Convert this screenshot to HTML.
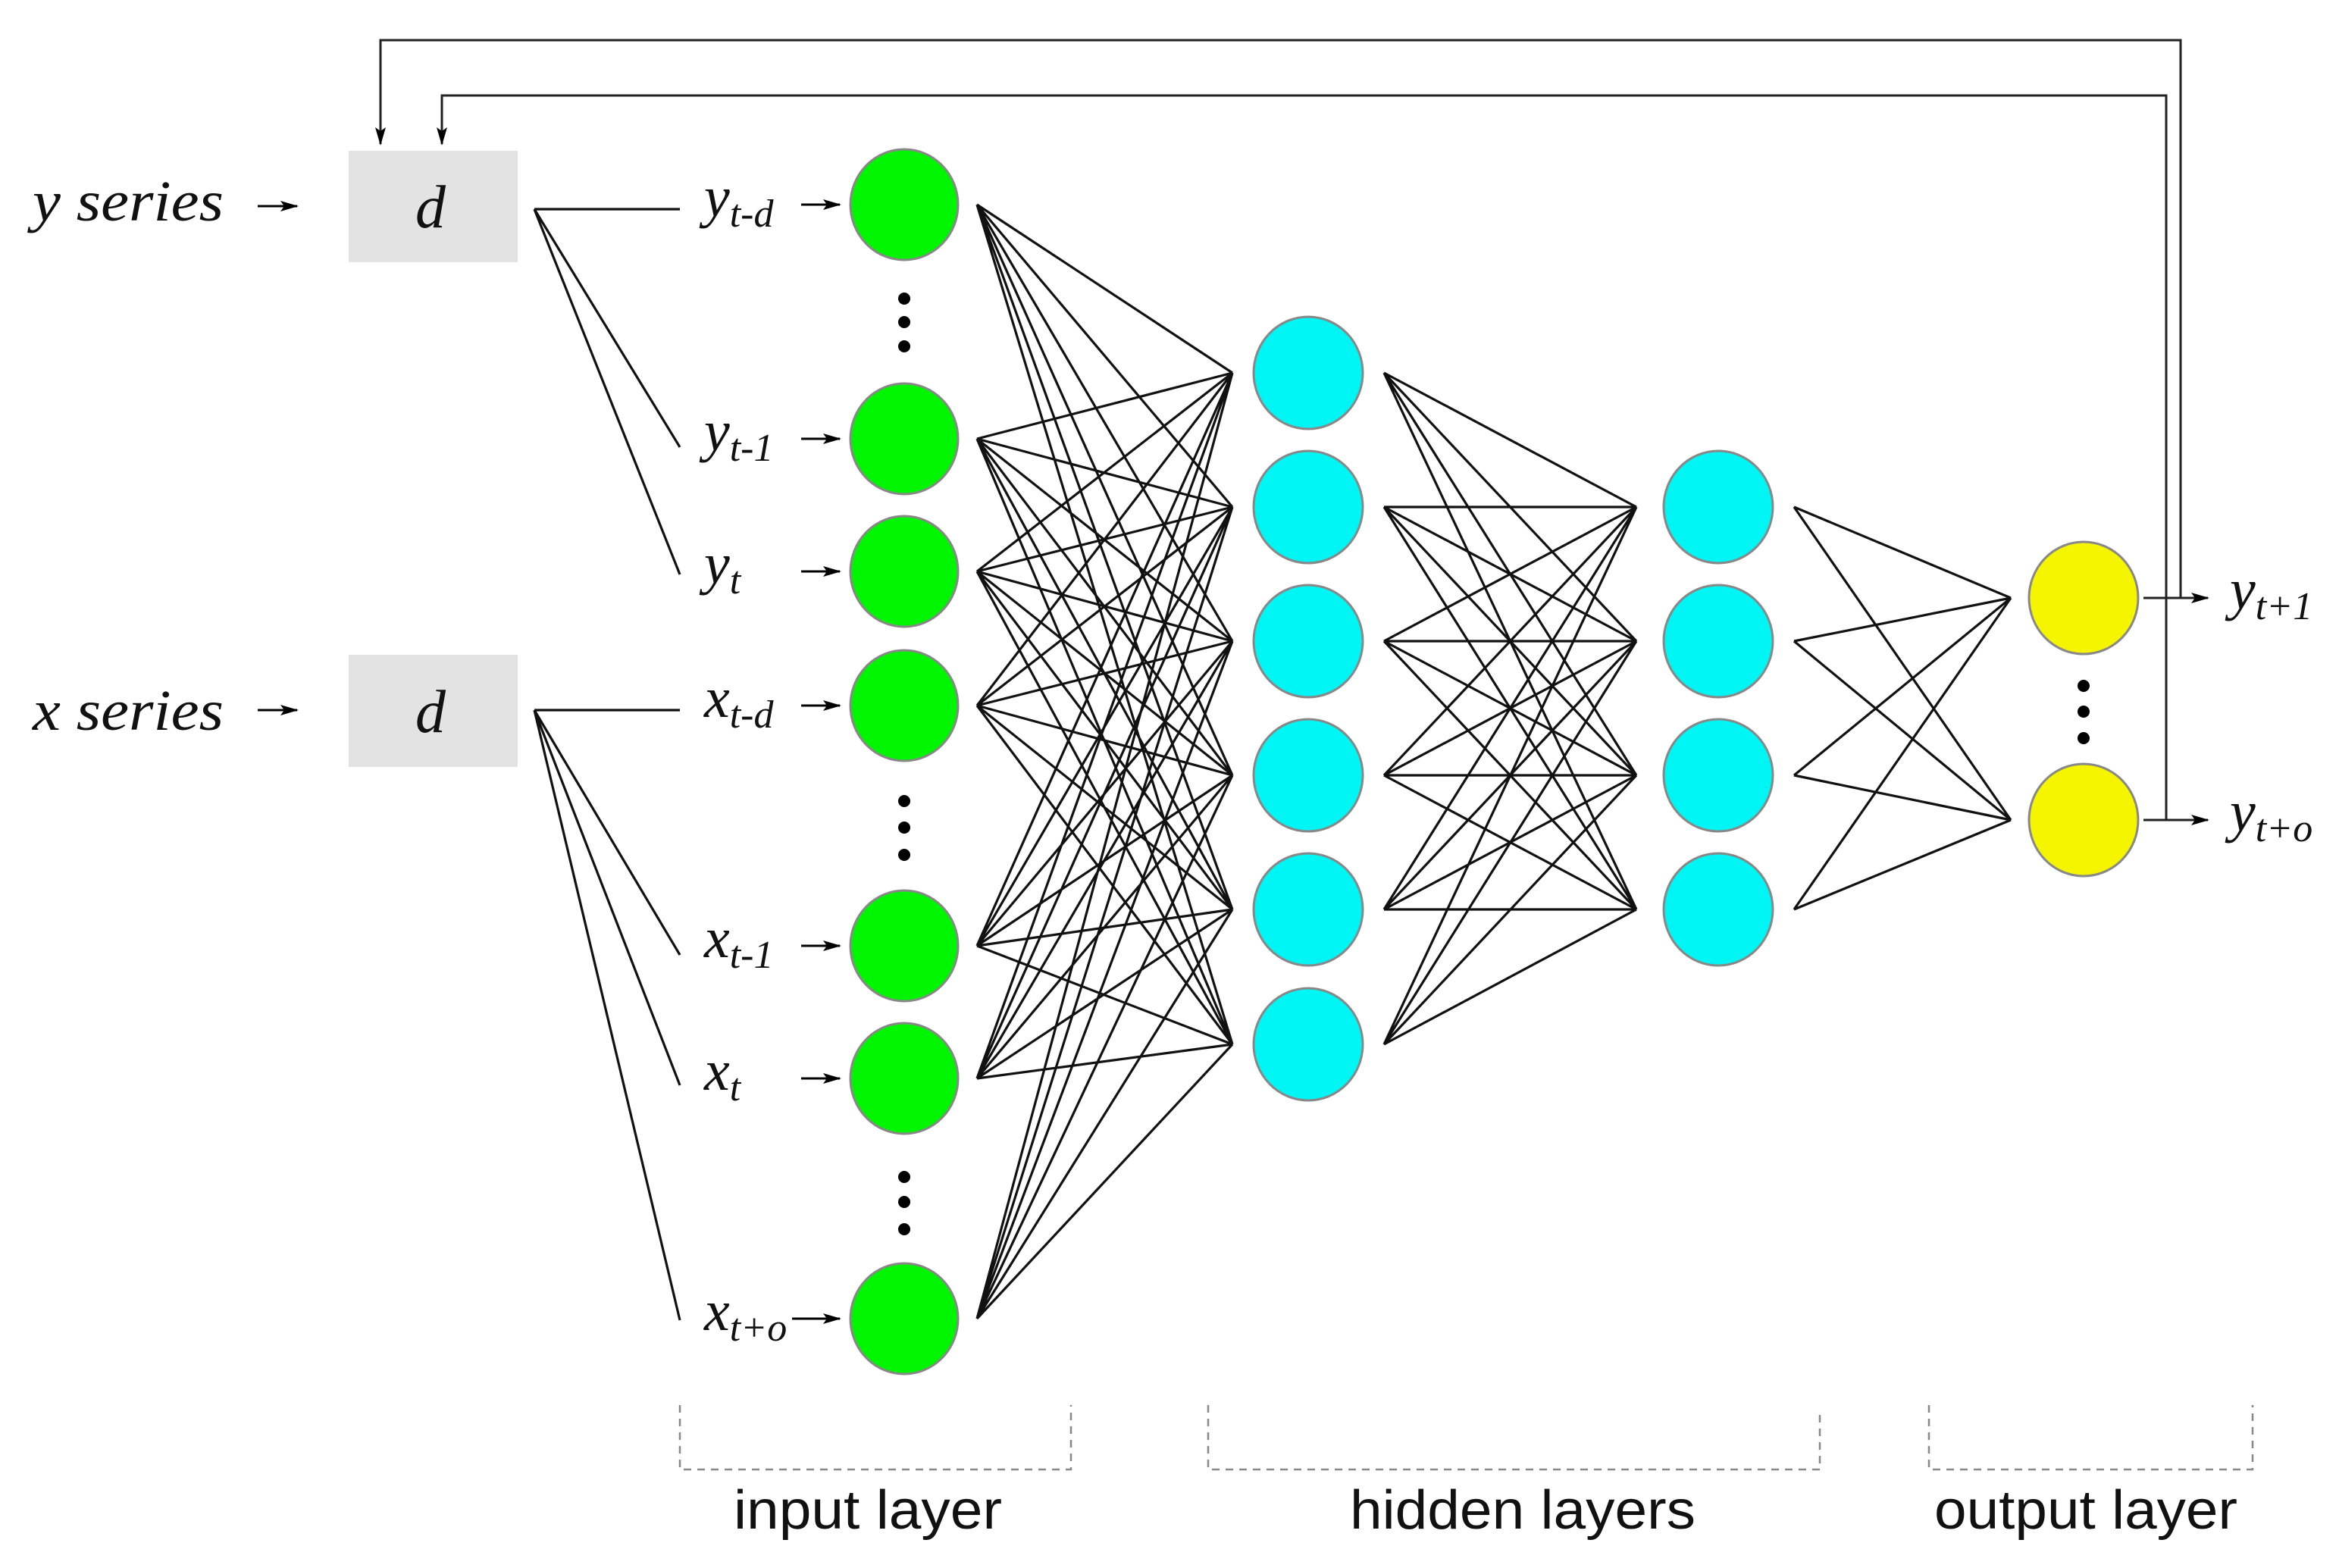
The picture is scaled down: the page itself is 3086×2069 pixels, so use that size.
<!DOCTYPE html>
<html><head><meta charset="utf-8"><style>html,body{margin:0;padding:0;background:#fff}svg{display:block}</style></head>
<body>
<svg width="3086" height="2069" viewBox="0 0 3086 2069" xmlns="http://www.w3.org/2000/svg">
<defs>
<marker id="b" markerWidth="24" markerHeight="14" refX="22" refY="7" orient="auto" markerUnits="userSpaceOnUse"><path d="M0,0 L24,7 L0,14 L5,7 z" fill="#000"/></marker></defs>
<g fill="none" stroke="#222" stroke-width="3">
<path d="M2828,789 H2877 V53 H502 V190" marker-end="url(#b)"/>
<path d="M2877,789 H2913" marker-end="url(#b)"/>
<path d="M2828,1082 H2858 V126 H583 V190" marker-end="url(#b)"/>
<path d="M2858,1082 H2913" marker-end="url(#b)"/>
</g>
<rect x="460" y="199" width="223" height="147" fill="#e3e3e3"/>
<rect x="460" y="864" width="223" height="148" fill="#e3e3e3"/>
<g font-family="Liberation Serif, serif" font-style="italic" font-size="76" fill="#111">
<text x="43" y="291" textLength="252" lengthAdjust="spacingAndGlyphs">y series</text><text x="43" y="963" textLength="252" lengthAdjust="spacingAndGlyphs">x series</text>
<text x="548" y="300" font-size="80">d</text><text x="548" y="966" font-size="80">d</text>
<text x="929" y="285">y<tspan font-size="52" dy="14">t-d</tspan></text>
<text x="929" y="594">y<tspan font-size="52" dy="14">t-1</tspan></text>
<text x="929" y="769">y<tspan font-size="52" dy="14">t</tspan></text>
<text x="929" y="946">x<tspan font-size="52" dy="14">t-d</tspan></text>
<text x="929" y="1263">x<tspan font-size="52" dy="14">t-1</tspan></text>
<text x="929" y="1438">x<tspan font-size="52" dy="14">t</tspan></text>
<text x="929" y="1755">x<tspan font-size="52" dy="14">t+o</tspan></text>
<text x="2942" y="803">y<tspan font-size="52" dy="14">t+1</tspan></text>
<text x="2942" y="1096">y<tspan font-size="52" dy="14">t+o</tspan></text>
</g>
<g stroke="#000" stroke-width="3" fill="none">
<path d="M340,272H392" marker-end="url(#b)"/>
<path d="M340,937H392" marker-end="url(#b)"/>
<path d="M1057,270H1108" marker-end="url(#b)"/>
<path d="M1057,579H1108" marker-end="url(#b)"/>
<path d="M1057,754H1108" marker-end="url(#b)"/>
<path d="M1057,931H1108" marker-end="url(#b)"/>
<path d="M1057,1248H1108" marker-end="url(#b)"/>
<path d="M1057,1423H1108" marker-end="url(#b)"/>
<path d="M1045,1740H1108" marker-end="url(#b)"/>
</g>
<g stroke="#111" stroke-width="3.2" fill="none">
<path d="M705,276H897 M705,276L897,590 M705,276L897,758 M705,937H897 M705,937L897,1260 M705,937L897,1432 M705,937L897,1742"/>
<path d="M1289,270L1626,492M1289,270L1626,669M1289,270L1626,846M1289,270L1626,1023M1289,270L1626,1200M1289,270L1626,1378
M1289,579L1626,492M1289,579L1626,669M1289,579L1626,846M1289,579L1626,1023M1289,579L1626,1200M1289,579L1626,1378
M1289,754L1626,492M1289,754L1626,669M1289,754L1626,846M1289,754L1626,1023M1289,754L1626,1200M1289,754L1626,1378
M1289,931L1626,492M1289,931L1626,669M1289,931L1626,846M1289,931L1626,1023M1289,931L1626,1200M1289,931L1626,1378
M1289,1248L1626,492M1289,1248L1626,669M1289,1248L1626,846M1289,1248L1626,1023M1289,1248L1626,1200M1289,1248L1626,1378
M1289,1423L1626,492M1289,1423L1626,669M1289,1423L1626,846M1289,1423L1626,1023M1289,1423L1626,1200M1289,1423L1626,1378
M1289,1740L1626,492M1289,1740L1626,669M1289,1740L1626,846M1289,1740L1626,1023M1289,1740L1626,1200M1289,1740L1626,1378"/>
<path d="M1826,492L2159,669M1826,492L2159,846M1826,492L2159,1023M1826,492L2159,1200
M1826,669L2159,669M1826,669L2159,846M1826,669L2159,1023M1826,669L2159,1200
M1826,846L2159,669M1826,846L2159,846M1826,846L2159,1023M1826,846L2159,1200
M1826,1023L2159,669M1826,1023L2159,846M1826,1023L2159,1023M1826,1023L2159,1200
M1826,1200L2159,669M1826,1200L2159,846M1826,1200L2159,1023M1826,1200L2159,1200
M1826,1378L2159,669M1826,1378L2159,846M1826,1378L2159,1023M1826,1378L2159,1200"/>
<path d="M2367,669L2653,789M2367,669L2653,1082M2367,846L2653,789M2367,846L2653,1082M2367,1023L2653,789M2367,1023L2653,1082M2367,1200L2653,789M2367,1200L2653,1082"/>
</g>
<g fill="#00f500" stroke="#888" stroke-width="3">
<ellipse cx="1193" cy="270" rx="71" ry="73"/><ellipse cx="1193" cy="579" rx="71" ry="73"/><ellipse cx="1193" cy="754" rx="71" ry="73"/><ellipse cx="1193" cy="931" rx="71" ry="73"/><ellipse cx="1193" cy="1248" rx="71" ry="73"/><ellipse cx="1193" cy="1423" rx="71" ry="73"/><ellipse cx="1193" cy="1740" rx="71" ry="73"/>
</g>
<g fill="#00f5f5" stroke="#888" stroke-width="3">
<ellipse cx="1726" cy="492" rx="72" ry="74"/><ellipse cx="1726" cy="669" rx="72" ry="74"/><ellipse cx="1726" cy="846" rx="72" ry="74"/><ellipse cx="1726" cy="1023" rx="72" ry="74"/><ellipse cx="1726" cy="1200" rx="72" ry="74"/><ellipse cx="1726" cy="1378" rx="72" ry="74"/>
<ellipse cx="2267" cy="669" rx="72" ry="74"/><ellipse cx="2267" cy="846" rx="72" ry="74"/><ellipse cx="2267" cy="1023" rx="72" ry="74"/><ellipse cx="2267" cy="1200" rx="72" ry="74"/>
</g>
<g fill="#f5f500" stroke="#888" stroke-width="3">
<ellipse cx="2749" cy="789" rx="72" ry="74"/><ellipse cx="2749" cy="1082" rx="72" ry="74"/>
</g>
<g fill="#000">
<circle cx="1193" cy="394" r="8"/><circle cx="1193" cy="425" r="8"/><circle cx="1193" cy="457" r="8"/>
<circle cx="1193" cy="1057" r="8"/><circle cx="1193" cy="1092" r="8"/><circle cx="1193" cy="1128" r="8"/>
<circle cx="1193" cy="1553" r="8"/><circle cx="1193" cy="1586" r="8"/><circle cx="1193" cy="1622" r="8"/>
<circle cx="2749" cy="905" r="8"/><circle cx="2749" cy="939" r="8"/><circle cx="2749" cy="974" r="8"/>
</g>
<g fill="none" stroke="#888" stroke-width="2.5" stroke-dasharray="10,8">
<path d="M897,1854V1939H1413V1854"/>
<path d="M1594,1854V1939H2401V1865"/>
<path d="M2545,1854V1939H2972V1854"/>
</g>
<g font-family="Liberation Sans, sans-serif" font-size="72" fill="#111">
<text x="968" y="2017" textLength="354" lengthAdjust="spacingAndGlyphs">input layer</text>
<text x="1781" y="2017" textLength="456" lengthAdjust="spacingAndGlyphs">hidden layers</text>
<text x="2552" y="2017" textLength="400" lengthAdjust="spacingAndGlyphs">output layer</text>
</g>
</svg>
</body></html>
